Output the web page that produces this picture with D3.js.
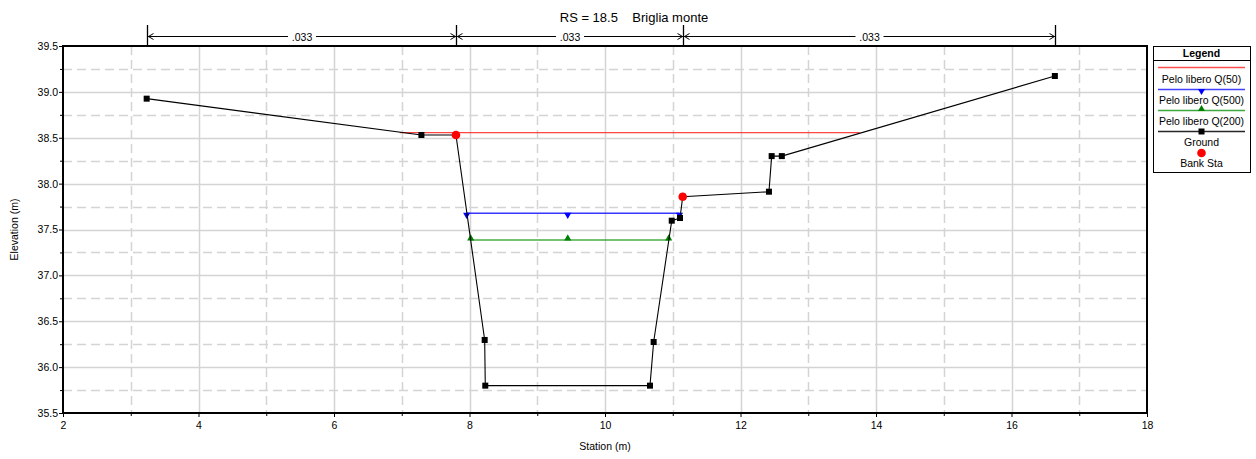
<!DOCTYPE html>
<html>
<head>
<meta charset="utf-8">
<script src="https://cdn.jsdelivr.net/npm/d3@7"></script>
<style>
  html, body { margin: 0; padding: 0; background: #fff; }
  svg { display: block; font-family: "Liberation Sans", Arial, sans-serif; }
</style>
</head>
<body>
<svg id="chart" width="1256" height="459"></svg>
<script>
// ---------- DATA ----------
const titleText = "RS = 18.5    Briglia monte";
const groundStation = [3.235, 7.29, 7.80, 8.224, 8.233, 10.664, 10.718, 10.985, 11.107, 11.147, 12.42, 12.46, 12.61, 16.64];
const groundElev    = [38.926, 38.53, 38.53, 36.296, 35.798, 35.798, 36.274, 37.596, 37.625, 37.857, 37.912, 38.30, 38.30, 39.173];
const bankStation = [7.80, 11.147];
const bankElev    = [38.53, 37.857];
const wsNames = ["Pelo libero Q(50)", "Pelo libero Q(500)", "Pelo libero Q(200)"];
const wsElev  = [38.555, 37.677, 37.386];
const wsLeft  = [6.97, 7.958, 8.018];
const wsRight = [13.76, 11.10, 10.94];
const wsMid   = [null, 9.45, 9.45];
const nBounds = [3.235, 7.80, 11.147, 16.64];
const nValues = [".033", ".033", ".033"];
const xTicks = [2, 4, 6, 8, 10, 12, 14, 16, 18];
const yTicks = [35.5, 36.0, 36.5, 37.0, 37.5, 38.0, 38.5, 39.0, 39.5];

// ---------- LAYOUT ----------
const svg = d3.select("#chart");
const L = 63, R = 1147, T = 46, B = 413;
const x = d3.scaleLinear().domain([2, 18]).range([L, R]);
const y = d3.scaleLinear().domain([35.5, 39.5]).range([B, T]);
const fs = 10.5;

// grid
const grid = svg.append("g");
const xMinor = d3.range(3, 18, 2);
const yMinor = d3.range(35.75, 39.5, 0.5);
grid.selectAll(".xmin").data(xMinor).enter().append("line")
  .attr("x1", d => Math.round(x(d)) + 0.5).attr("x2", d => Math.round(x(d)) + 0.5)
  .attr("y1", T).attr("y2", B)
  .attr("stroke", "#d4d4d4").attr("stroke-width", 1.5).attr("stroke-dasharray", "9,5");
grid.selectAll(".ymin").data(yMinor).enter().append("line")
  .attr("y1", d => Math.round(y(d)) + 0.5).attr("y2", d => Math.round(y(d)) + 0.5)
  .attr("x1", L).attr("x2", R)
  .attr("stroke", "#d4d4d4").attr("stroke-width", 1.5).attr("stroke-dasharray", "9,5");
grid.selectAll(".xmaj").data(xTicks.slice(1, -1)).enter().append("line")
  .attr("x1", d => Math.round(x(d)) + 0.5).attr("x2", d => Math.round(x(d)) + 0.5)
  .attr("y1", T).attr("y2", B)
  .attr("stroke", "#d4d4d4").attr("stroke-width", 1.5);
grid.selectAll(".ymaj").data(yTicks.slice(1, -1)).enter().append("line")
  .attr("y1", d => Math.round(y(d)) + 0.5).attr("y2", d => Math.round(y(d)) + 0.5)
  .attr("x1", L).attr("x2", R)
  .attr("stroke", "#d4d4d4").attr("stroke-width", 1.5);

// axes
const xAxis = d3.axisBottom(x).tickValues(xTicks).tickFormat(d3.format("d")).tickSize(4).tickSizeOuter(0);
const gx = svg.append("g").attr("transform", `translate(0,${B})`).call(xAxis);
gx.select(".domain").remove();
gx.selectAll("text").attr("font-size", fs).attr("fill", "#000").attr("font-family", "Liberation Sans, Arial, sans-serif").attr("dy", "0.85em");
gx.selectAll("line").attr("stroke", "#000");
svg.append("g").attr("transform", `translate(0,${B})`)
  .call(d3.axisBottom(x).tickValues(xMinor).tickFormat("").tickSize(3).tickSizeOuter(0))
  .call(g => g.select(".domain").remove());

const yAxis = d3.axisLeft(y).tickValues(yTicks).tickFormat(d3.format(".1f")).tickSize(4).tickSizeOuter(0);
const gy = svg.append("g").attr("transform", `translate(${L},0)`).call(yAxis);
gy.select(".domain").remove();
gy.selectAll("text").attr("font-size", fs).attr("fill", "#000").attr("font-family", "Liberation Sans, Arial, sans-serif").attr("x", -5);
svg.append("g").attr("transform", `translate(${L},0)`)
  .call(d3.axisLeft(y).tickValues(yMinor).tickFormat("").tickSize(3).tickSizeOuter(0))
  .call(g => g.select(".domain").remove());

// frame
svg.append("rect").attr("x", L).attr("y", T).attr("width", R - L).attr("height", B - T)
  .attr("fill", "none").attr("stroke", "#000").attr("stroke-width", 2);

// axis labels
svg.append("text").attr("x", x(10)).attr("y", 450).attr("text-anchor", "middle")
  .attr("font-size", fs).text("Station (m)");
svg.append("text").attr("transform", `translate(18,${(T + B) / 2}) rotate(-90)`)
  .attr("text-anchor", "middle").attr("font-size", fs).text("Elevation (m)");

// title
svg.append("text").attr("x", 634).attr("y", 22).attr("text-anchor", "middle")
  .attr("font-size", 13).attr("xml:space", "preserve").style("white-space", "pre").text(titleText);

// Manning's n markers
const nG = svg.append("g");
nG.selectAll(".nb").data(nBounds).enter().append("line")
  .attr("x1", d => Math.round(x(d)) + 0.5).attr("x2", d => Math.round(x(d)) + 0.5)
  .attr("y1", 25).attr("y2", T).attr("stroke", "#000").attr("stroke-width", 1.3);
const yA = 36.5;
nValues.forEach((v, i) => {
  const x0 = Math.round(x(nBounds[i])) + 0.5, x1 = Math.round(x(nBounds[i + 1])) + 0.5;
  const xm = (x0 + x1) / 2;
  nG.append("line").attr("x1", x0).attr("x2", x1).attr("y1", yA).attr("y2", yA).attr("stroke", "#000").attr("stroke-width", 1);
  // arrowheads
  nG.append("path").attr("d", `M${x0 + 6},${yA - 3}L${x0 + 1},${yA}L${x0 + 6},${yA + 3}`).attr("fill", "none").attr("stroke", "#000");
  nG.append("path").attr("d", `M${x1 - 6},${yA - 3}L${x1 - 1},${yA}L${x1 - 6},${yA + 3}`).attr("fill", "none").attr("stroke", "#000");
  nG.append("rect").attr("x", xm - 14).attr("y", yA - 6).attr("width", 28).attr("height", 12).attr("fill", "#fff");
  nG.append("text").attr("x", xm).attr("y", yA + 4).attr("text-anchor", "middle").attr("font-size", fs).text(v);
});

// water surfaces
const wsColors = ["#ff3030", "#2020ff", "#1a9a1a"];
const tri = d3.symbol().type(d3.symbolTriangle).size(22);
const plot = svg.append("g");
wsElev.forEach((e, i) => {
  plot.append("line").attr("x1", x(wsLeft[i])).attr("x2", x(wsRight[i]))
    .attr("y1", y(e)).attr("y2", y(e)).attr("stroke", wsColors[i]).attr("stroke-width", i === 0 ? 1.2 : 1.6)
    .attr("stroke-opacity", i === 2 ? 0.8 : 0.9);
  if (wsMid[i] !== null) {
    const pts = [wsLeft[i], wsMid[i], wsRight[i]];
    const rot = i === 1 ? 180 : 0;
    const dy = i === 1 ? 1.5 : -1.5;
    plot.selectAll(null).data(pts).enter().append("path")
      .attr("d", tri)
      .attr("transform", d => `translate(${x(d)},${y(e) + dy}) rotate(${rot})`)
      .attr("fill", i === 1 ? "#0000ff" : "#008000");
  }
});

// ground
const ground = groundStation.map((s, i) => [s, groundElev[i]]);
plot.append("path").datum(ground)
  .attr("d", d3.line().x(d => x(d[0])).y(d => y(d[1])))
  .attr("fill", "none").attr("stroke", "#000").attr("stroke-width", 1.1);
plot.selectAll(".gp").data(ground).enter().append("rect")
  .attr("x", d => x(d[0]) - 3).attr("y", d => y(d[1]) - 3).attr("width", 6).attr("height", 6).attr("fill", "#000");
plot.selectAll(".bk").data(bankStation.map((s, i) => [s, bankElev[i]])).enter().append("circle")
  .attr("cx", d => x(d[0])).attr("cy", d => y(d[1])).attr("r", 4.3).attr("fill", "#ff0000");

// legend
const lg = svg.append("g");
const lx0 = 1153, lx1 = 1250, lcx = (lx0 + lx1) / 2;
lg.append("rect").attr("x", lx0 + 0.5).attr("y", 46.5).attr("width", lx1 - lx0).attr("height", 126)
  .attr("fill", "#fff").attr("stroke", "#000").attr("stroke-width", 1);
lg.append("text").attr("x", lcx).attr("y", 57).attr("text-anchor", "middle").attr("font-size", fs).attr("font-weight", "bold").text("Legend");
lg.append("line").attr("x1", lx0).attr("x2", lx1 + 1).attr("y1", 60.5).attr("y2", 60.5).attr("stroke", "#000");
const legItems = [
  {name: wsNames[0], color: wsColors[0], mk: null, ly: 67.5, ty: 82.5},
  {name: wsNames[1], color: wsColors[1], mk: "down", ly: 89.5, ty: 104},
  {name: wsNames[2], color: wsColors[2], mk: "up", ly: 110.5, ty: 124.5},
  {name: "Ground", color: "#000", mk: "sq", ly: 131.5, ty: 145.5},
  {name: "Bank Sta", color: null, mk: "circ", ly: 153, ty: 167}
];
legItems.forEach(it => {
  if (it.color) lg.append("line").attr("x1", 1158).attr("x2", 1245).attr("y1", it.ly).attr("y2", it.ly)
    .attr("stroke", it.color).attr("stroke-width", 1.5).attr("stroke-opacity", 0.85);
  if (it.mk === "down") lg.append("path").attr("d", tri).attr("transform", `translate(${lcx},${it.ly + 1.5}) rotate(180)`).attr("fill", "#0000ff");
  if (it.mk === "up") lg.append("path").attr("d", tri).attr("transform", `translate(${lcx},${it.ly - 1.5})`).attr("fill", "#008000");
  if (it.mk === "sq") lg.append("rect").attr("x", lcx - 3).attr("y", it.ly - 3).attr("width", 6).attr("height", 6).attr("fill", "#000");
  if (it.mk === "circ") lg.append("circle").attr("cx", lcx).attr("cy", it.ly).attr("r", 4.3).attr("fill", "#ff0000");
  lg.append("text").attr("x", lcx).attr("y", it.ty).attr("text-anchor", "middle").attr("font-size", fs).text(it.name);
});
</script>
</body>
</html>
